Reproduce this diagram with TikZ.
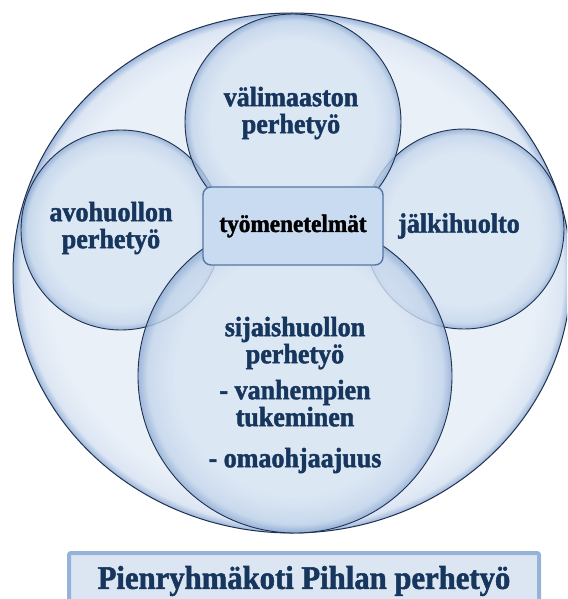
\documentclass[tikz,border=0pt]{standalone}
\usepackage{fontspec}
\setmainfont{Liberation Serif}
\newfontfamily\heavy[BoldFeatures={FakeBold=1.6,FakeStretch=0.93}]{Liberation Serif}
\usetikzlibrary{shapes.geometric}
\definecolor{navy}{HTML}{17365D}
\definecolor{bubin}{HTML}{D9E5F3}
\definecolor{bubmid}{HTML}{C3D5EB}
\definecolor{bubrim}{HTML}{8CA9D2}
\definecolor{outin}{HTML}{EAF0F8}
\definecolor{outmid}{HTML}{DCE6F3}
\definecolor{outrim}{HTML}{9DB6DA}
\definecolor{edgec}{HTML}{1F3150}
\definecolor{boxfill}{HTML}{C9DBF1}
\definecolor{boxedge}{HTML}{5476A3}
\definecolor{capfill}{HTML}{DCE6F2}
\definecolor{capedge}{HTML}{95B3D7}
\pgfdeclareradialshading{bubble}{\pgfpoint{0bp}{0bp}}{color(0bp)=(bubin);color(19bp)=(bubin);color(23.5bp)=(bubmid);color(25bp)=(bubrim);color(50bp)=(bubrim)}
\pgfdeclareradialshading{outbubble}{\pgfpoint{0bp}{0bp}}{color(0bp)=(outin);color(22bp)=(outin);color(24.3bp)=(outmid);color(25bp)=(outrim);color(50bp)=(outrim)}
\tikzset{
  outerE/.style={ellipse, draw=edgec, line width=1pt, shade, shading=outbubble, inner sep=0pt, outer sep=0pt},
  bubble/.style={circle, draw=edgec, line width=0.9pt, shade, shading=bubble, fill opacity=0.8, draw opacity=1, inner sep=0pt, outer sep=0pt},
  lbl/.style={font=\heavy\fontsize{28}{27}\selectfont\bfseries, text=navy, align=center, inner sep=0pt},
  methodbox/.style={rectangle, rounded corners=8pt, fill=boxfill, draw=boxedge, line width=1.4pt, minimum width=180pt, minimum height=78pt, font=\heavy\fontsize{25}{25}\selectfont\bfseries, text=black},
  capbox/.style={rectangle, rounded corners=2pt, fill=capfill, draw=capedge, line width=4pt, minimum width=470pt, minimum height=60pt},
  caplbl/.style={font=\heavy\fontsize{33}{33}\selectfont\bfseries, text=navy, inner sep=0pt}
}
\begin{document}
\begin{tikzpicture}[x=1pt, y=-1pt]
\useasboundingbox (0,0) rectangle (567,599);
\clip (0,0) rectangle (567,599);
\node[outerE, minimum width=558pt, minimum height=520pt] (outer) at (292,273) {};
\node[bubble, minimum size=200pt] (left) at (121,230) {};
\node[bubble, minimum size=200pt] (right) at (464,229) {};
\node[bubble, minimum size=216pt] (top) at (293,122) {};
\node[bubble, minimum size=314pt] (bottom) at (295,376) {};
\node[methodbox] (tm) at (293,226) {työmenetelmät};
\node[lbl] (ttop) at (291,113) {välimaaston\\perhetyö};
\node[lbl] (tleft) at (111,228) {avohuollon\\perhetyö};
\node[lbl] (tright) at (459,226) {jälkihuolto};
\node[lbl] (tbottom) at (295,395) {sijaishuollon\\perhetyö\\[9pt]- vanhempien\\tukeminen\\[14pt]- omaohjaajuus};
\node[capbox] (cap) at (304,583) {};
\node[caplbl] (captext) at (304,581) {Pienryhmäkoti Pihlan perhetyö};
\end{tikzpicture}
\end{document}
